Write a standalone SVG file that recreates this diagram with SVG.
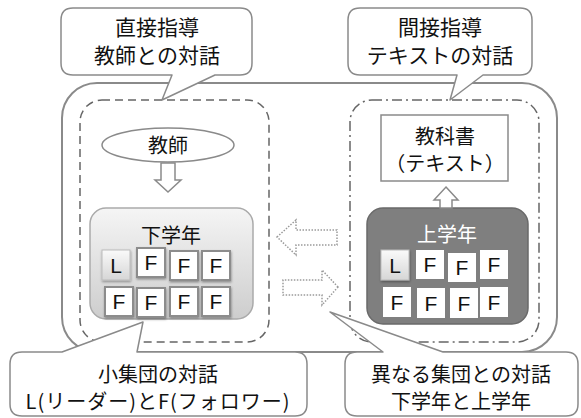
<svg xmlns="http://www.w3.org/2000/svg" width="581" height="418" viewBox="0 0 581 418">
<style>
.t{font-family:"Noto Sans CJK JP","Liberation Sans",sans-serif;font-size:20px;fill:#111;text-anchor:middle}
.lt{font-family:"Liberation Sans","Noto Sans",sans-serif;font-size:21px;fill:#111;text-anchor:middle}
.callout{fill:#fff;stroke:#8a8a8a;stroke-width:1.5;stroke-linejoin:round}
.fl{fill:#fff;stroke:#8c8c8c;stroke-width:2;filter:url(#sh)}
.fr{fill:#fff;stroke:none}
.lb{fill:url(#lg);stroke:#bbb;stroke-width:1;filter:url(#sh)}
.dot{fill:#fff;stroke:#9a9a9a;stroke-width:1.5;stroke-dasharray:1.5 1.5}
.blk{fill:#fff;stroke:#8a8a8a;stroke-width:1.5}
</style>
<defs>
<linearGradient id="g1" x1="0" y1="0" x2="0" y2="1"><stop offset="0" stop-color="#f5f5f5"/><stop offset="1" stop-color="#cdcdcd"/></linearGradient>
<linearGradient id="lg" x1="0" y1="0" x2="0" y2="1"><stop offset="0" stop-color="#fafafa"/><stop offset="1" stop-color="#d6d6d6"/></linearGradient>
<filter id="sh" x="-20%" y="-20%" width="150%" height="150%"><feDropShadow dx="0.5" dy="1.5" stdDeviation="1" flood-color="#000" flood-opacity="0.35"/></filter>
</defs>
<rect width="581" height="418" fill="#fff"/>
<g id="outer"><rect x="62" y="83" width="495" height="269" rx="35" fill="none" stroke="#8a8a8a" stroke-width="2"/></g>
<g id="left-group"><rect x="80" y="100" width="189" height="242" rx="22" fill="none" stroke="#666" stroke-width="1.5" stroke-dasharray="8 5"/></g>
<g id="right-group"><rect x="350" y="100" width="189" height="242" rx="22" fill="none" stroke="#666" stroke-width="1.5" stroke-dasharray="10 4 2 4"/></g>
<g id="callout-direct">
<path class="callout" d="M73,8 H240 Q252,8 252,20 V63 Q252,75 240,75 H215 L162,100 L172,75 H73 Q61,75 61,63 V20 Q61,8 73,8 Z"/>
<text class="t" x="157" y="35" style="font-size:21px">直接指導</text>
<text class="t" x="157" y="63" style="font-size:21px">教師との対話</text>
</g>
<g id="callout-indirect">
<path class="callout" d="M360,8 H520 Q532,8 532,20 V63 Q532,75 520,75 H483 L450,100 L457,75 H360 Q348,75 348,63 V20 Q348,8 360,8 Z"/>
<text class="t" x="440" y="35" style="font-size:21px">間接指導</text>
<text class="t" x="440" y="63" style="font-size:21px">テキストの対話</text>
</g>
<g id="callout-small">
<path class="callout" d="M22,352 H62 L143,322 L137,352 H295 Q307,352 307,364 V404 Q307,416 295,416 H22 Q10,416 10,404 V364 Q10,352 22,352 Z"/>
<text class="t" x="158" y="382">小集団の対話</text>
<text class="t" x="158" y="409" style="letter-spacing:1px">L(リーダー)とF(フォロワー)</text>
</g>
<g id="callout-different">
<path class="callout" d="M357,352 H383 L330,312 L443,352 H566 Q578,352 578,364 V404 Q578,416 566,416 H357 Q345,416 345,404 V364 Q345,352 357,352 Z"/>
<text class="t" x="461" y="382">異なる集団との対話</text>
<text class="t" x="461" y="409">下学年と上学年</text>
</g>
<g id="teacher">
<ellipse cx="168" cy="145" rx="66" ry="17" fill="#fff" stroke="#8a8a8a" stroke-width="1.5"/>
<text class="t" x="168" y="153">教師</text>
</g>
<g id="textbook">
<rect x="381" y="115" width="127" height="66" fill="#fff" stroke="#8a8a8a" stroke-width="1.5"/>
<text class="t" x="445" y="144">教科書</text>
<text class="t" x="445" y="171">（テキスト）</text>
</g>
<g id="lower">
<rect x="90" y="208" width="163" height="111" rx="16" fill="url(#g1)" stroke="#aaa" stroke-width="1.5"/>
<text class="t" x="171" y="243">下学年</text>
<rect class="lb" x="102" y="250" width="28" height="30"/><text class="lt" x="116" y="273">L</text>
<rect class="fl" x="137" y="248" width="28" height="29"/><text class="lt" x="151" y="270">F</text>
<rect class="fl" x="170" y="251" width="28" height="29"/><text class="lt" x="184" y="273">F</text>
<rect class="fl" x="202" y="251" width="28" height="29"/><text class="lt" x="216" y="273">F</text>
<rect class="fl" x="105" y="287" width="28" height="29"/><text class="lt" x="119" y="309">F</text>
<rect class="fl" x="137" y="288" width="28" height="29"/><text class="lt" x="151" y="310">F</text>
<rect class="fl" x="170" y="287" width="28" height="29"/><text class="lt" x="184" y="309">F</text>
<rect class="fl" x="202" y="287" width="28" height="29"/><text class="lt" x="216" y="309">F</text>
</g>
<g id="upper">
<rect x="367" y="208" width="161" height="116" rx="16" fill="#7f7f7f" stroke="#6a6a6a" stroke-width="1.5"/>
<text class="t" x="447" y="242" style="fill:#fff">上学年</text>
<rect class="lb" x="381" y="250" width="28" height="30"/><text class="lt" x="395" y="273">L</text>
<rect class="fr" x="416" y="250" width="28" height="29"/><text class="lt" x="430" y="272">F</text>
<rect class="fr" x="448" y="253" width="28" height="29"/><text class="lt" x="462" y="275">F</text>
<rect class="fr" x="480" y="250" width="28" height="29"/><text class="lt" x="494" y="272">F</text>
<rect class="fr" x="383" y="287" width="28" height="30"/><text class="lt" x="397" y="310">F</text>
<rect class="fr" x="417" y="288" width="28" height="30"/><text class="lt" x="431" y="311">F</text>
<rect class="fr" x="450" y="288" width="28" height="30"/><text class="lt" x="464" y="311">F</text>
<rect class="fr" x="480" y="287" width="28" height="30"/><text class="lt" x="494" y="310">F</text>
</g>
<g id="connectors">
<polygon class="blk" points="161,163 175,163 175,180 181,180 168,192 155,180 161,180"/>
<polygon class="blk" points="446,187 458,200 452,200 452,208 440,208 440,200 434,200"/>
<polygon class="dot" points="277,237 296,220 296,230 337,230 337,245 296,245 296,255"/>
<polygon class="dot" points="338,287 322,270 322,280 283,280 283,295 322,295 322,305"/>
</g>
</svg>
